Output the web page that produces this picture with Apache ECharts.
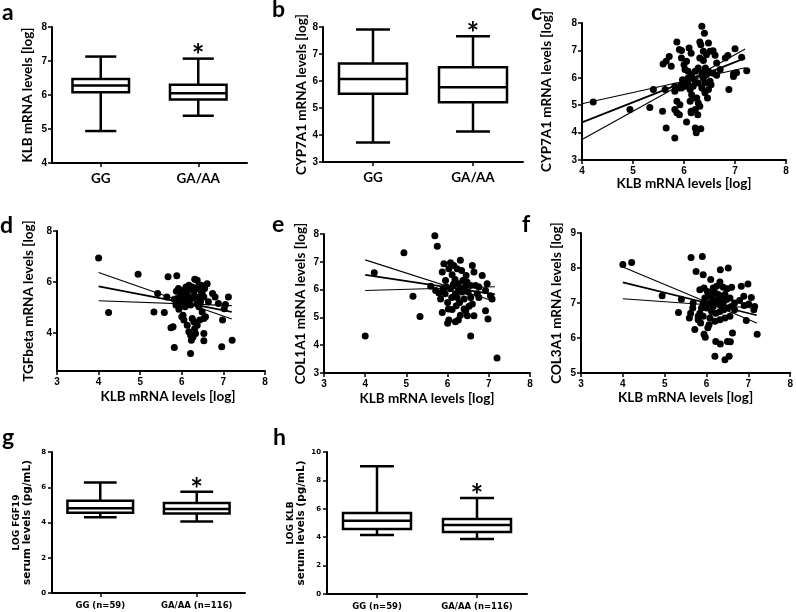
<!DOCTYPE html>
<html><head><meta charset="utf-8">
<script src="https://cdn.jsdelivr.net/npm/echarts@6/dist/echarts.min.js"></script>
<style>html,body{margin:0;padding:0;background:#fff}#chart{width:796px;height:612px}</style>
</head><body><div id="chart"></div>
<script>
// ---------- data ----------
const genotypes = ['GG', 'GA/AA'];
const serumGenotypes = ['GG (n=59)', 'GA/AA (n=116)'];
// box stats: [min, Q1, median, Q3, max]
const klbTissueBox = [[4.94, 6.08, 6.28, 6.47, 7.13], [5.39, 5.87, 6.05, 6.30, 7.07]];
const cyp7a1Box = [[3.72, 5.53, 6.07, 6.65, 7.91], [4.13, 5.21, 5.77, 6.51, 7.66]];
const fgf19SerumBox = [[4.30, 4.56, 4.81, 5.24, 6.27], [4.05, 4.51, 4.77, 5.10, 5.74]];
const klbSerumBox = [[4.15, 4.58, 5.15, 5.70, 9.00], [3.87, 4.37, 4.86, 5.28, 6.76]];
const significance = ['', '*'];

// scatter: [KLB, target]
const klbVsCyp7a1 = [[4.22,5.12],[4.94,4.84],[5.33,4.92],[5.40,5.57],[5.59,6.50],[5.65,6.60],[5.71,6.78],[5.75,6.42],[5.58,4.78],[5.65,4.17],[5.82,3.80],[5.63,5.57],[5.86,7.31],[5.91,7.03],[5.95,7.00],[5.82,4.84],[5.86,4.72],[5.91,4.65],[5.86,5.14],[5.82,5.69],[5.89,5.63],[5.95,5.75],[6.02,5.87],[6.05,6.60],[6.02,6.30],[6.10,7.09],[6.14,6.90],[6.08,5.99],[6.15,6.11],[6.22,6.24],[6.20,5.93],[6.12,5.57],[6.15,5.38],[6.14,4.72],[6.05,4.39],[6.22,4.17],[6.24,3.99],[6.33,4.14],[6.28,5.08],[6.31,4.96],[6.25,5.26],[6.35,7.88],[6.40,7.63],[6.31,7.31],[6.33,7.21],[6.48,7.27],[6.38,6.97],[6.31,6.72],[6.38,6.63],[6.44,6.84],[6.51,6.97],[6.57,6.99],[6.61,6.82],[6.64,6.54],[6.42,6.36],[6.48,6.24],[6.51,5.87],[6.53,5.75],[6.48,5.57],[6.46,5.26],[6.41,5.45],[6.35,5.63],[6.28,5.81],[6.38,5.99],[6.44,6.11],[6.57,6.17],[6.64,6.09],[6.71,6.30],[6.81,6.72],[6.86,6.81],[6.88,5.57],[6.97,6.05],[7.00,7.06],[7.03,6.18],[7.13,6.75],[7.23,6.26],[6.97,6.14],[6.02,5.69],[6.07,5.81],[6.18,5.69],[5.95,5.63],[5.97,5.93],[6.12,5.14],[6.18,5.26],[6.22,4.84],[6.27,4.65],[5.92,5.02],[6.14,4.78],[5.95,6.72],[6.00,6.48],[6.08,6.24],[6.28,6.36],[6.35,6.18],[6.41,5.81],[5.82,5.51]];
const klbVsTgfb = [[4.00,6.94],[4.24,4.80],[4.95,6.30],[5.33,4.82],[5.58,4.80],[5.42,5.54],[5.64,5.41],[5.67,6.20],[5.74,4.20],[5.79,4.24],[5.82,3.42],[5.88,6.24],[5.87,5.63],[5.89,5.35],[5.86,5.09],[5.93,4.93],[5.97,5.54],[6.01,5.35],[6.03,4.69],[6.05,4.50],[6.09,5.22],[6.13,5.61],[6.17,5.41],[6.21,3.19],[6.17,4.04],[6.21,3.91],[6.23,3.71],[6.27,3.84],[6.25,4.56],[6.29,4.43],[6.31,4.17],[6.33,5.74],[6.31,6.10],[6.37,6.07],[6.41,5.87],[6.45,5.67],[6.49,5.54],[6.53,5.41],[6.45,5.22],[6.49,4.82],[6.53,4.56],[6.57,4.63],[6.53,3.97],[6.53,3.69],[6.61,5.93],[6.64,5.22],[6.74,5.54],[6.80,5.41],[6.88,5.15],[6.96,3.45],[6.98,4.50],[7.02,4.95],[7.05,5.11],[7.12,5.41],[7.21,3.71],[5.92,5.74],[6.05,5.67],[6.10,5.80],[6.17,5.87],[6.21,5.74],[6.25,5.80],[6.29,5.61],[6.33,5.41],[6.25,5.35],[6.15,5.15],[6.08,5.02],[6.21,5.09],[6.37,5.15],[6.41,5.41],[6.41,5.02],[5.97,5.15],[5.82,5.32],[6.00,4.63],[6.13,4.30],[6.37,4.30],[6.43,4.50],[6.33,3.97],[6.05,5.41],[6.55,5.74],[6.47,5.87],[6.37,5.74],[6.13,5.35]];
const klbVsCol1a1 = [[4.00,4.33],[4.22,6.61],[4.94,7.33],[5.16,5.76],[5.33,5.03],[5.69,7.94],[5.75,7.56],[5.59,6.12],[5.71,5.97],[5.79,5.88],[5.83,5.66],[5.87,6.63],[5.91,6.93],[5.95,6.33],[5.97,6.09],[6.00,5.54],[6.02,5.30],[6.03,4.91],[6.00,4.79],[6.07,6.97],[6.11,6.53],[6.15,6.21],[6.19,5.85],[6.21,5.42],[6.26,4.91],[6.19,4.84],[6.31,7.06],[6.34,6.69],[6.37,6.33],[6.34,6.03],[6.40,5.66],[6.44,5.24],[6.48,5.06],[6.52,5.40],[6.56,4.33],[6.60,6.87],[6.64,6.63],[6.68,6.15],[6.72,5.85],[6.60,5.48],[6.64,5.06],[6.76,6.09],[6.84,6.51],[6.92,5.97],[6.92,5.24],[6.96,6.21],[6.98,4.94],[7.04,5.78],[7.08,5.66],[7.20,3.54],[6.07,6.03],[6.13,6.15],[6.18,6.36],[6.26,6.21],[6.27,5.97],[6.23,5.72],[6.29,5.54],[6.35,5.91],[6.42,6.09],[6.47,6.27],[6.50,5.91],[6.45,6.51],[6.23,6.75],[6.15,6.87],[6.03,6.75],[6.10,5.72],[5.94,5.85],[5.89,6.03],[6.56,6.15],[6.56,5.72],[6.76,5.72],[6.40,5.30],[6.11,5.28],[5.87,5.18],[6.31,5.08]];
const klbVsCol3a1 = [[4.00,8.10],[4.21,8.16],[4.94,7.21],[5.40,7.11],[5.33,6.73],[5.63,8.30],[5.90,8.33],[5.75,7.90],[5.92,7.81],[6.10,7.67],[6.33,7.95],[6.52,8.00],[6.32,7.60],[5.84,7.38],[5.94,7.43],[6.02,7.33],[6.16,7.43],[6.24,7.48],[6.40,7.45],[6.49,7.41],[6.60,7.45],[6.83,7.48],[6.99,7.54],[6.79,7.07],[6.89,7.19],[7.07,7.16],[7.01,6.97],[7.13,6.81],[6.95,6.50],[7.21,6.11],[6.62,6.14],[6.50,5.90],[6.57,5.89],[6.33,5.83],[6.22,5.90],[6.20,5.48],[6.44,5.38],[6.54,5.48],[5.97,6.02],[5.94,6.11],[5.72,6.24],[6.06,6.38],[6.03,6.29],[5.59,6.57],[5.62,6.71],[5.67,6.86],[5.80,6.62],[5.84,6.71],[5.88,6.86],[5.92,7.00],[5.96,7.14],[6.04,7.19],[6.12,7.24],[6.20,7.29],[6.28,7.24],[6.36,7.19],[6.44,7.24],[6.48,7.10],[6.40,7.00],[6.32,6.95],[6.24,7.00],[6.16,6.90],[6.08,7.00],[6.00,6.86],[6.12,6.76],[6.22,6.71],[6.32,6.76],[6.41,6.81],[6.51,6.86],[6.59,6.90],[6.67,6.81],[6.56,6.62],[6.44,6.57],[6.32,6.52],[6.20,6.48],[6.08,6.57],[5.92,6.62],[5.86,6.43],[5.80,6.52],[5.68,7.00],[6.16,7.10],[6.30,7.10],[6.56,7.14],[6.67,7.00],[6.90,6.93],[7.15,6.90]];

// regression line and 95% confidence band edges (endpoints)
const cFit = [[4, 4.37], [7.2, 6.72]];
const cBand1 = [[4, 5.05], [7.2, 6.37]];
const cBand2 = [[4, 3.75], [7.2, 7.05]];
const dFit = [[4, 5.82], [7.2, 4.82]];
const dBand1 = [[4, 6.37], [7.2, 4.54]];
const dBand2 = [[4, 5.26], [7.2, 5.07]];
const eFit = [[4, 6.53], [7.15, 5.83]];
const eBand1 = [[4, 7.07], [7.15, 5.57]];
const eBand2 = [[4, 5.97], [7.15, 6.10]];
const fFit = [[4, 7.59], [7.2, 6.65]];
const fBand1 = [[4, 8.03], [7.2, 6.43]];
const fBand2 = [[4, 7.12], [7.2, 6.85]];

// ---------- styling / layout ----------
const TITLE_FONT = 'Lato';
const NUM_FONT = 'Liberation Sans';
const grids = [
  {left: 52, top: 27, width: 195, height: 136},   // a
  {left: 323, top: 27, width: 200, height: 135},  // b
  {left: 582, top: 23, width: 204, height: 137},  // c
  {left: 57, top: 231, width: 208, height: 140},  // d
  {left: 324, top: 234, width: 206, height: 139}, // e
  {left: 581, top: 233, width: 212, height: 140}, // f
  {left: 52, top: 452, width: 193, height: 141},  // g
  {left: 327, top: 452, width: 200, height: 142}  // h
];

const axisLine = {show: true, lineStyle: {color: '#000', width: 2}};
const axisTick = {show: true, length: 4, lineStyle: {color: '#000', width: 1.5}};
const numLabel = {color: '#000', fontFamily: NUM_FONT, fontWeight: 'bold', fontSize: 10, margin: 5};
const titleStyle = {fontFamily: TITLE_FONT, fontWeight: 'bold', fontSize: 13.5, color: '#000'};
const smallLabel = {color: '#000', fontFamily: 'DejaVu Sans', fontWeight: 'bold', fontSize: 7, margin: 6};

function yVal(gi, min, max, interval, name, nameGap, extra) {
  const ax = {
    type: 'value', gridIndex: gi, min: min, max: max,
    name: name, nameLocation: 'middle', nameGap: nameGap, nameRotate: 90,
    nameTextStyle: titleStyle,
    axisLine: axisLine, axisTick: axisTick, axisLabel: numLabel, splitLine: {show: false}
  };
  if (interval) ax.interval = interval;
  return Object.assign(ax, extra || {});
}
function xVal(gi, name, extra) {
  return Object.assign({
    type: 'value', gridIndex: gi, min: 3, max: 8, interval: 1,
    name: name, nameLocation: 'middle', nameGap: 16,
    nameTextStyle: titleStyle,
    axisLine: axisLine, axisTick: axisTick, axisLabel: Object.assign({}, numLabel, {margin: 6}),
    splitLine: {show: false}
  }, extra || {});
}
function xCat(gi, cats, labelStyle) {
  return {
    type: 'category', gridIndex: gi, data: cats, boundaryGap: true,
    axisLine: axisLine,
    axisTick: {show: true, alignWithLabel: true, length: 4, lineStyle: {color: '#000', width: 1.5}},
    axisLabel: labelStyle, splitLine: {show: false}
  };
}

function boxRenderer(boxFrac, capFrac, lw) {
  return function (params, api) {
    const ci = api.value(0);
    const band = api.size([1, 0])[0];
    const bw = band * boxFrac, cw = bw * capFrac;
    const pMin = api.coord([ci, api.value(1)]);
    const pQ1 = api.coord([ci, api.value(2)]);
    const pMed = api.coord([ci, api.value(3)]);
    const pQ3 = api.coord([ci, api.value(4)]);
    const pMax = api.coord([ci, api.value(5)]);
    const x = pMin[0];
    const st = {stroke: '#000', lineWidth: lw, fill: null};
    const children = [
      {type: 'line', shape: {x1: x, y1: pMax[1], x2: x, y2: pQ3[1]}, style: st},
      {type: 'line', shape: {x1: x, y1: pQ1[1], x2: x, y2: pMin[1]}, style: st},
      {type: 'line', shape: {x1: x - cw / 2, y1: pMax[1], x2: x + cw / 2, y2: pMax[1]}, style: st},
      {type: 'line', shape: {x1: x - cw / 2, y1: pMin[1], x2: x + cw / 2, y2: pMin[1]}, style: st},
      {type: 'rect', shape: {x: x - bw / 2, y: pQ3[1], width: bw, height: pQ1[1] - pQ3[1]},
        style: {stroke: '#000', lineWidth: lw, fill: '#fff'}},
      {type: 'line', shape: {x1: x - bw / 2, y1: pMed[1], x2: x + bw / 2, y2: pMed[1]}, style: st}
    ];
    const mark = significance[params.dataIndex];
    if (mark) {
      children.push({type: 'text', x: x, y: pMax[1] - 2,
        style: {text: mark, fill: '#000', font: 'bold 30px ' + TITLE_FONT, align: 'center', verticalAlign: 'middle'}});
    }
    return {type: 'group', children: children};
  };
}
function boxSeries(axisIdx, stats, boxFrac, capFrac, lw) {
  return {
    type: 'custom', xAxisIndex: axisIdx, yAxisIndex: axisIdx,
    renderItem: boxRenderer(boxFrac, capFrac, lw),
    encode: {x: 0, y: [1, 2, 3, 4, 5]},
    data: stats.map((s, i) => [i].concat(s))
  };
}
function scatterSeries(axisIdx, pts) {
  return {type: 'scatter', xAxisIndex: axisIdx, yAxisIndex: axisIdx, data: pts,
    symbol: 'circle', symbolSize: 7, itemStyle: {color: '#000', opacity: 1}, z: 2};
}
function lineSeries(axisIdx, pts, w) {
  return {type: 'line', xAxisIndex: axisIdx, yAxisIndex: axisIdx, data: pts, symbol: 'none',
    lineStyle: {color: '#000', width: w, opacity: 1}, z: 3};
}

const catLabel = {color: '#000', fontFamily: TITLE_FONT, fontWeight: 'bold', fontSize: 13.5, margin: 9};
const serumLabel = {color: '#000', fontFamily: 'DejaVu Sans', fontWeight: 'bold', fontSize: 8.5, margin: 8};
const serumName = {
  color: '#000', fontFamily: 'DejaVu Sans', fontWeight: 'bold', lineHeight: 11,
  rich: {
    t: {fontFamily: 'DejaVu Sans', fontWeight: 'bold', fontSize: 9, lineHeight: 11, color: '#000'},
    s: {fontFamily: 'DejaVu Sans', fontWeight: 'bold', fontSize: 10.5, lineHeight: 11, color: '#000'}
  }
};

const xAxes = [
  xCat(0, genotypes, catLabel),
  xCat(1, genotypes, catLabel),
  xVal(2, 'KLB mRNA levels [log]', {min: 4}),
  xVal(3, 'KLB mRNA levels [log]', {nameGap: 19, nameTextStyle: Object.assign({}, titleStyle, {padding: [0, 0, 0, 14]})}),
  xVal(4, 'KLB mRNA levels [log]', {nameGap: 19}),
  xVal(5, 'KLB mRNA levels [log]', {nameGap: 18})
  ,
  xCat(6, serumGenotypes, serumLabel),
  xCat(7, serumGenotypes, serumLabel)
];
const yAxes = [
  yVal(0, 4, 8, 1, 'KLB mRNA levels [log]', 17),
  yVal(1, 3, 8, 1, 'CYP7A1 mRNA levels [log]', 14),
  yVal(2, 3, 8, 1, 'CYP7A1 mRNA levels [log]', 28),
  yVal(3, 2.5, 8, 0, 'TGFbeta mRNA levels [log]', 21, {
    axisTick: Object.assign({}, axisTick, {customValues: [4, 6, 8]}),
    axisLabel: Object.assign({}, numLabel, {customValues: [4, 6, 8]})
  }),
  yVal(4, 3, 8, 1, 'COL1A1 mRNA levels [log]', 16),
  yVal(5, 5, 9, 1, 'COL3A1 mRNA levels [log]', 17),
  yVal(6, 0, 8, 2, '{t|LOG FGF19}\n{s|serum levels (pg/mL)}', 19, {nameTextStyle: serumName, axisLabel: smallLabel}),
  yVal(7, 0, 10, 2, '{t|LOG KLB}\n{s|serum levels (pg/mL)}', 20, {nameTextStyle: serumName, axisLabel: smallLabel})
];

const series = [
  boxSeries(0, klbTissueBox, 0.58, 0.55, 2.5),
  boxSeries(1, cyp7a1Box, 0.68, 0.5, 2.5),
  scatterSeries(2, klbVsCyp7a1),
  lineSeries(2, cFit, 1.8), lineSeries(2, cBand1, 1.1), lineSeries(2, cBand2, 1.1),
  scatterSeries(3, klbVsTgfb),
  lineSeries(3, dFit, 1.8), lineSeries(3, dBand1, 1.1), lineSeries(3, dBand2, 1.1),
  scatterSeries(4, klbVsCol1a1),
  lineSeries(4, eFit, 1.8), lineSeries(4, eBand1, 1.1), lineSeries(4, eBand2, 1.1),
  scatterSeries(5, klbVsCol3a1),
  lineSeries(5, fFit, 1.8), lineSeries(5, fBand1, 1.1), lineSeries(5, fBand2, 1.1),
  boxSeries(6, fgf19SerumBox, 0.68, 0.5, 2.5),
  boxSeries(7, klbSerumBox, 0.68, 0.5, 2.5)
];

const panelLetters = [
  {t: 'a', x: 2, y: 20}, {t: 'b', x: 272, y: 17}, {t: 'c', x: 531, y: 20},
  {t: 'd', x: 0, y: 233}, {t: 'e', x: 272, y: 232}, {t: 'f', x: 522, y: 232},
  {t: 'g', x: 2, y: 445}, {t: 'h', x: 273, y: 445}
];

const chart = echarts.init(document.getElementById('chart'), null, {renderer: 'canvas', width: 796, height: 612});
chart.setOption({
  backgroundColor: '#fff',
  animation: false,
  grid: grids,
  xAxis: xAxes,
  yAxis: yAxes,
  series: series,
  graphic: panelLetters.map(p => ({
    type: 'text', left: p.x, top: p.y - 19, silent: true,
    style: {text: p.t, fill: '#000', font: 'bold 23px ' + TITLE_FONT}
  }))
});
</script></body></html>
